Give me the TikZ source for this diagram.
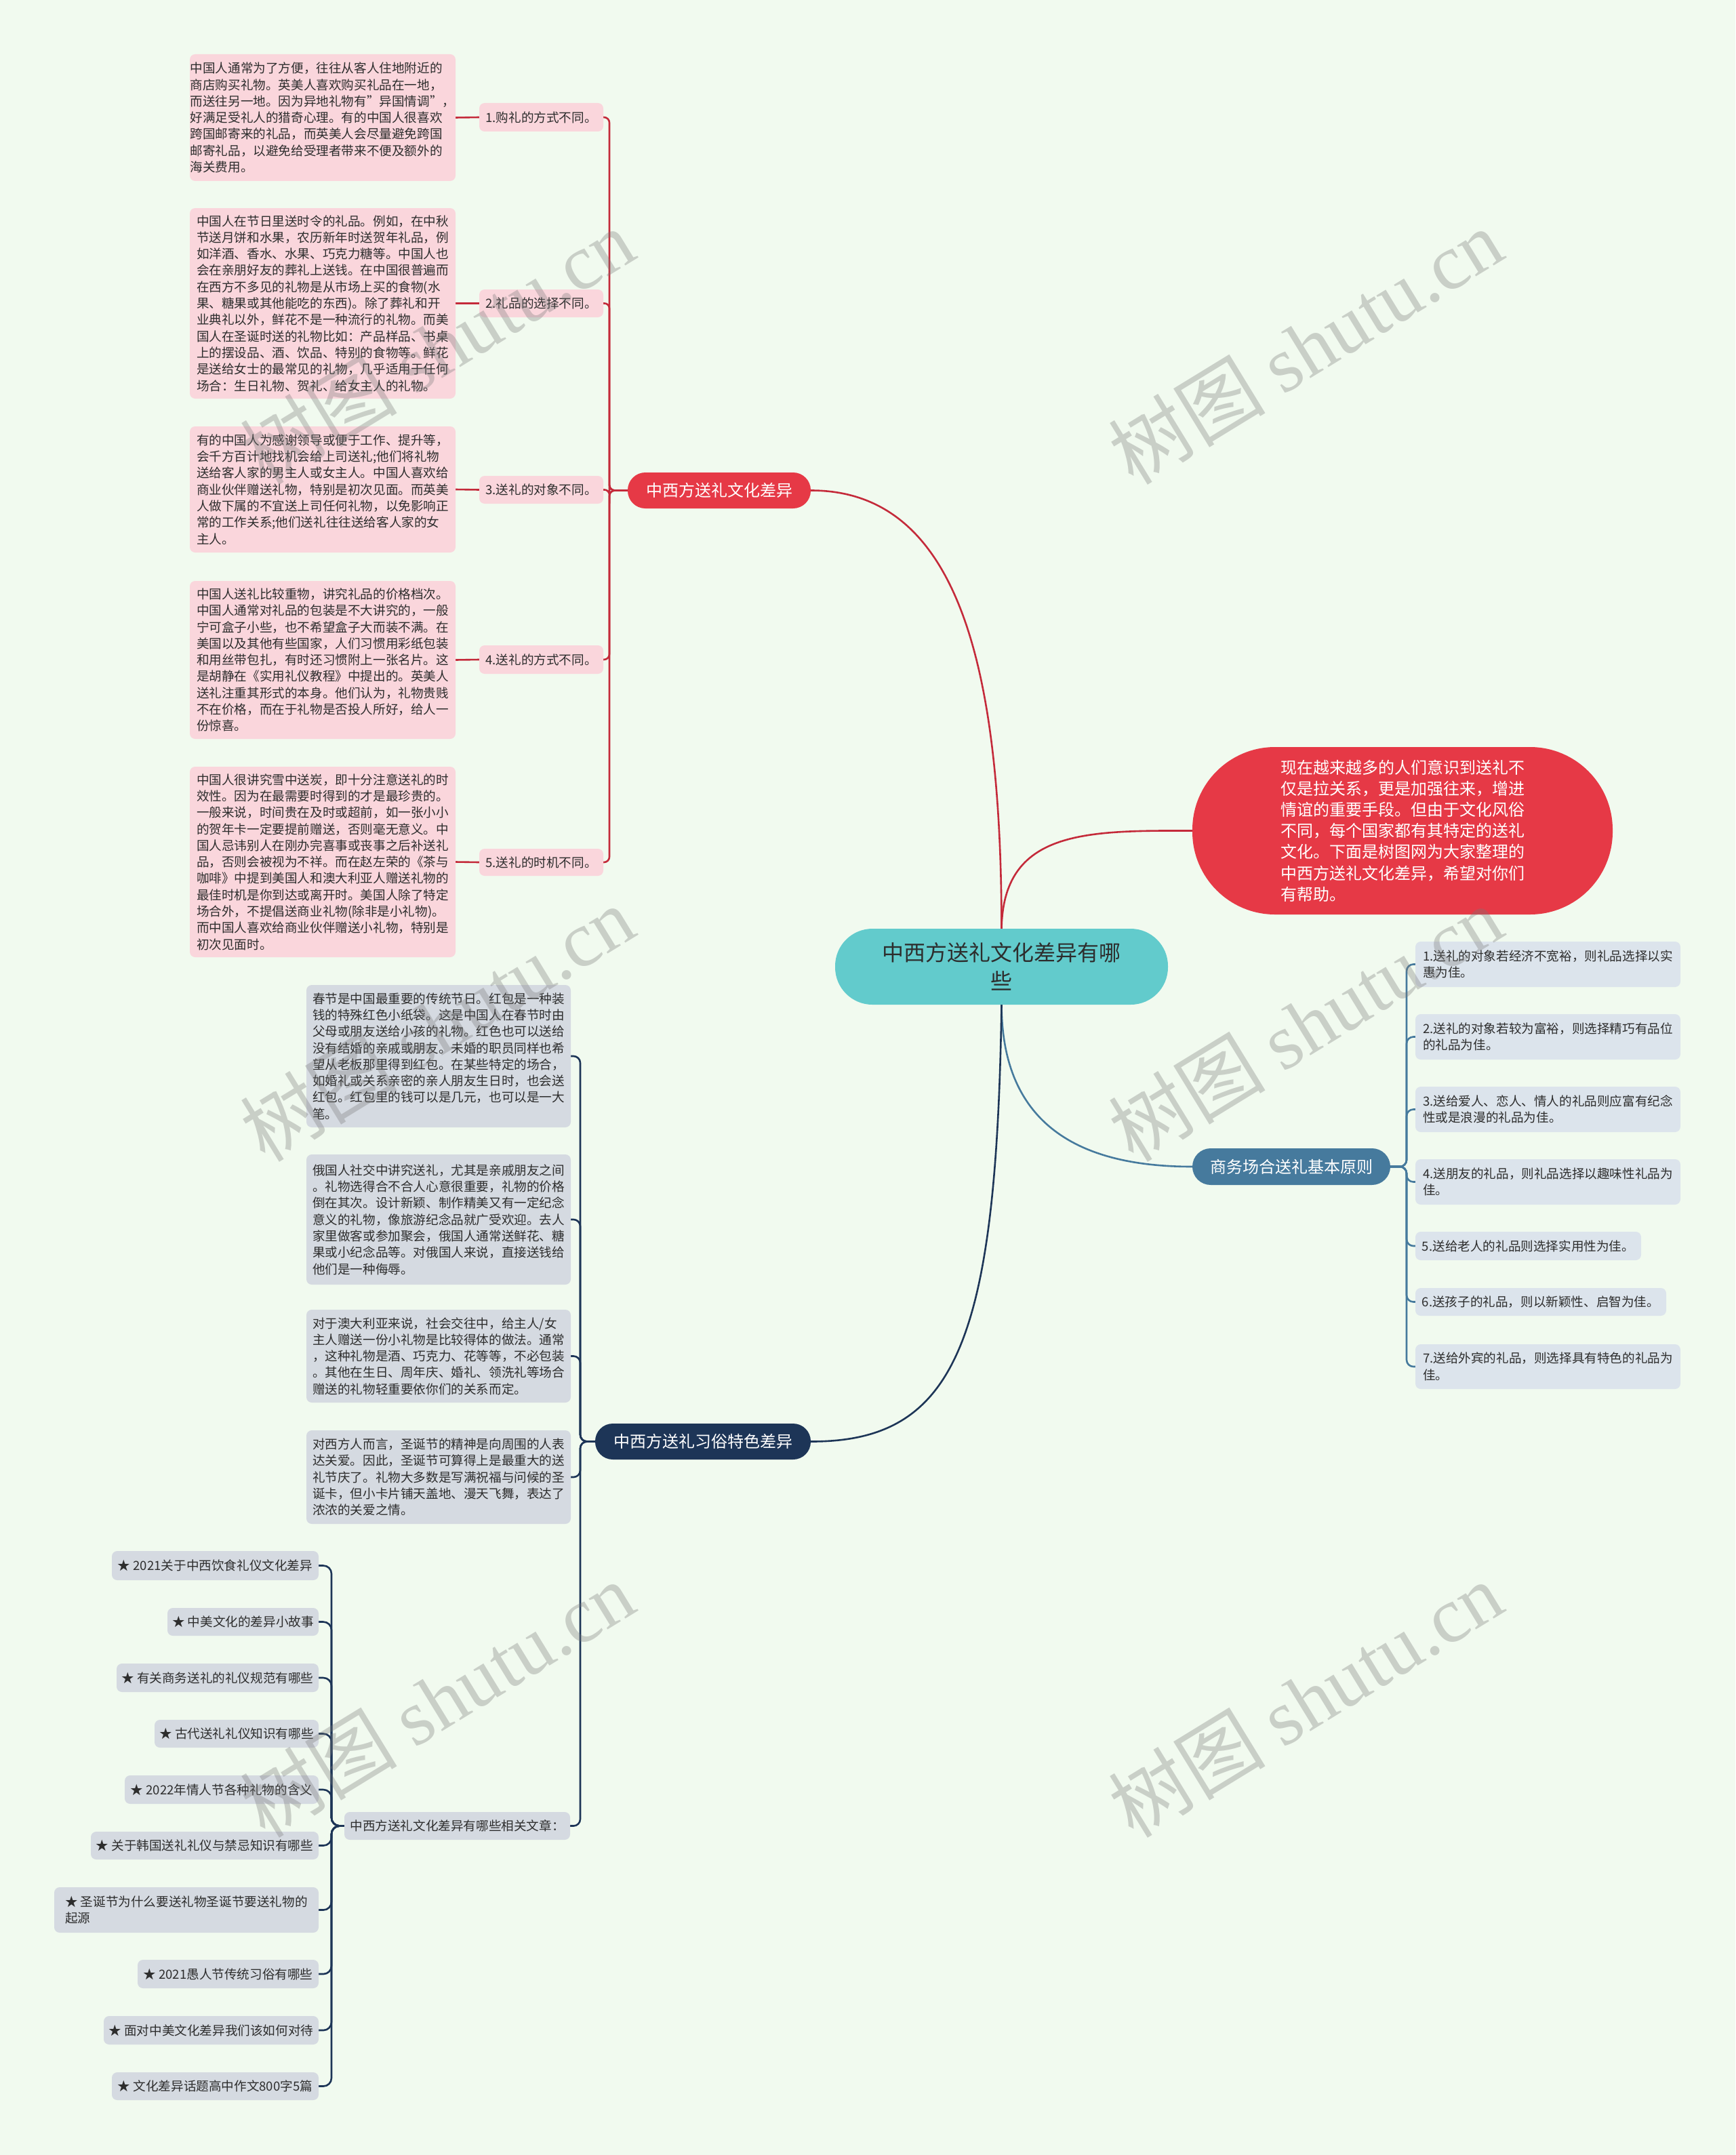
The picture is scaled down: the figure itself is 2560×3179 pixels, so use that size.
\documentclass[tikz,border=0pt]{standalone}
\usepackage{fontspec}
\setmainfont{Noto Sans CJK SC}
\newfontfamily\wmlat{Liberation Serif}
\pgfdeclarelayer{bgl}
\pgfsetlayers{bgl,main}
\definecolor{bgc}{RGB}{241,250,239}
\definecolor{redc}{RGB}{230,57,70}
\definecolor{redl}{RGB}{196,42,58}
\definecolor{pinkc}{RGB}{250,214,220}
\definecolor{tealc}{RGB}{98,203,204}
\definecolor{bluec}{RGB}{70,122,157}
\definecolor{navyc}{RGB}{29,53,87}
\definecolor{grayc}{RGB}{213,218,225}
\definecolor{bgrayc}{RGB}{220,228,236}
\definecolor{txtc}{RGB}{45,45,45}
\definecolor{wmc}{RGB}{120,120,120}
\newcommand\sfont{\fontsize{9.3}{12.15}\selectfont}
\newcommand\bfont{\fontsize{12}{15}\selectfont}
\newcommand\ifont{\fontsize{12}{15.6}\selectfont}
\newcommand\cfont{\fontsize{16}{21}\selectfont}
\newcommand\wfont{\fontsize{58}{60}\selectfont}
\newcommand\bx[7]{\node[#6, anchor=north west, minimum width={(#4-#2)*0.5pt}, minimum height={(#5-#3)*0.5pt}] (#1) at (#2,#3) {#7};}
\tikzset{
  box/.style={rounded corners=4pt, inner sep=0pt, outer sep=0pt, align=left, font=\sfont, text=txtc},
  pinkbox/.style={box, fill=pinkc},
  graybox/.style={box, fill=grayc},
  bluebox/.style={box, fill=bgrayc},
  redbranch/.style={rounded corners=13pt, inner sep=0pt, outer sep=0pt, fill=redc, text=white, font=\bfont},
  bluebranch/.style={rounded corners=13.5pt, inner sep=0pt, outer sep=0pt, fill=bluec, text=white, font=\bfont},
  navybranch/.style={rounded corners=13pt, inner sep=0pt, outer sep=0pt, fill=navyc, text=white, font=\bfont},
  infobox/.style={rounded corners=61pt, inner sep=0pt, outer sep=0pt, fill=redc, text=white, font=\ifont, align=left},
  centerbox/.style={rounded corners=27.5pt, inner sep=0pt, outer sep=0pt, fill=tealc, text=txtc, font=\cfont, align=center},
  redline/.style={draw=redl, line width=1.3pt},
  blueline/.style={draw=bluec, line width=1.3pt},
  navyline/.style={draw=navyc, line width=1.3pt},
  wm/.style={text=wmc, opacity=0.33, font=\wfont, inner sep=0pt}
}
\begin{document}
\begin{tikzpicture}[x=0.5pt,y=-0.5pt]
\useasboundingbox (0,0) rectangle (2560,3179);
\begin{pgfonlayer}{bgl}
\fill[bgc] (0,0) rectangle (2560,3179);
\end{pgfonlayer}

% central
\bx{c}{1232}{1370}{1723}{1482}{centerbox}{中西方送礼文化差异有哪\\些}

% red branch
\bx{b1}{926}{697}{1196}{750}{redbranch}{中西方送礼文化差异}
\bx{L1}{707}{152}{890}{194}{pinkbox}{1.购礼的方式不同。}
\bx{L2}{707}{427}{890}{468}{pinkbox}{2.礼品的选择不同。}
\bx{L3}{707}{702}{890}{743}{pinkbox}{3.送礼的对象不同。}
\bx{L4}{707}{952}{890}{994}{pinkbox}{4.送礼的方式不同。}
\bx{L5}{707}{1252}{890}{1292}{pinkbox}{5.送礼的时机不同。}

\bx{P1}{280}{80}{672}{267}{pinkbox}{中国人通常为了方便，往往从客人住地附近的\\商店购买礼物。英美人喜欢购买礼品在一地，\\而送往另一地。因为异地礼物有"异国情调"，\\好满足受礼人的猎奇心理。有的中国人很喜欢\\跨国邮寄来的礼品，而英美人会尽量避免跨国\\邮寄礼品，以避免给受理者带来不便及额外的\\海关费用。}
\bx{P2}{280}{307}{672}{588}{pinkbox}{中国人在节日里送时令的礼品。例如，在中秋\\节送月饼和水果，农历新年时送贺年礼品，例\\如洋酒、香水、水果、巧克力糖等。中国人也\\会在亲朋好友的葬礼上送钱。在中国很普遍而\\在西方不多见的礼物是从市场上买的食物(水\\果、糖果或其他能吃的东西)。除了葬礼和开\\业典礼以外，鲜花不是一种流行的礼物。而美\\国人在圣诞时送的礼物比如：产品样品、书桌\\上的摆设品、酒、饮品、特别的食物等。鲜花\\是送给女士的最常见的礼物，几乎适用于任何\\场合：生日礼物、贺礼、给女主人的礼物。}
\bx{P3}{280}{629}{672}{815}{pinkbox}{有的中国人为感谢领导或便于工作、提升等，\\会千方百计地找机会给上司送礼;他们将礼物\\送给客人家的男主人或女主人。中国人喜欢给\\商业伙伴赠送礼物，特别是初次见面。而英美\\人做下属的不宜送上司任何礼物，以免影响正\\常的工作关系;他们送礼往往送给客人家的女\\主人。}
\bx{P4}{280}{857}{672}{1090}{pinkbox}{中国人送礼比较重物，讲究礼品的价格档次。\\中国人通常对礼品的包装是不大讲究的，一般\\宁可盒子小些，也不希望盒子大而装不满。在\\美国以及其他有些国家，人们习惯用彩纸包装\\和用丝带包扎，有时还习惯附上一张名片。这\\是胡静在《实用礼仪教程》中提出的。英美人\\送礼注重其形式的本身。他们认为，礼物贵贱\\不在价格，而在于礼物是否投人所好，给人一\\份惊喜。}
\bx{P5}{280}{1131}{672}{1412}{pinkbox}{中国人很讲究雪中送炭，即十分注意送礼的时\\效性。因为在最需要时得到的才是最珍贵的。\\一般来说，时间贵在及时或超前，如一张小小\\的贺年卡一定要提前赠送，否则毫无意义。中\\国人忌讳别人在刚办完喜事或丧事之后补送礼\\品，否则会被视为不祥。而在赵左荣的《茶与\\咖啡》中提到美国人和澳大利亚人赠送礼物的\\最佳时机是你到达或离开时。美国人除了特定\\场合外，不提倡送商业礼物(除非是小礼物)。\\而中国人喜欢给商业伙伴赠送小礼物，特别是\\初次见面时。}

% info
\bx{info}{1759}{1102}{2379}{1349}{infobox}{现在越来越多的人们意识到送礼不\\仅是拉关系，更是加强往来，增进\\情谊的重要手段。但由于文化风俗\\不同，每个国家都有其特定的送礼\\文化。下面是树图网为大家整理的\\中西方送礼文化差异，希望对你们\\有帮助。}

% business branch
\bx{b2}{1759}{1694}{2051}{1748}{bluebranch}{商务场合送礼基本原则}
\bx{R1}{2088}{1389}{2479}{1456}{bluebox}{1.送礼的对象若经济不宽裕，则礼品选择以实\\惠为佳。}
\bx{R2}{2088}{1496}{2479}{1563}{bluebox}{2.送礼的对象若较为富裕，则选择精巧有品位\\的礼品为佳。}
\bx{R3}{2088}{1603}{2479}{1670}{bluebox}{3.送给爱人、恋人、情人的礼品则应富有纪念\\性或是浪漫的礼品为佳。}
\bx{R4}{2088}{1710}{2479}{1777}{bluebox}{4.送朋友的礼品，则礼品选择以趣味性礼品为\\佳。}
\bx{R5}{2088}{1817}{2421}{1859}{bluebox}{5.送给老人的礼品则选择实用性为佳。}
\bx{R6}{2088}{1900}{2458}{1941}{bluebox}{6.送孩子的礼品，则以新颖性、启智为佳。}
\bx{R7}{2088}{1983}{2479}{2049}{bluebox}{7.送给外宾的礼品，则选择具有特色的礼品为\\佳。}

% customs branch
\bx{b3}{878}{2100}{1196}{2153}{navybranch}{中西方送礼习俗特色差异}
\bx{C1}{452}{1453}{842}{1663}{graybox}{春节是中国最重要的传统节日。红包是一种装\\钱的特殊红色小纸袋。这是中国人在春节时由\\父母或朋友送给小孩的礼物。红色也可以送给\\没有结婚的亲戚或朋友。未婚的职员同样也希\\望从老板那里得到红包。在某些特定的场合，\\如婚礼或关系亲密的亲人朋友生日时，也会送\\红包。红包里的钱可以是几元，也可以是一大\\笔。}
\bx{C2}{452}{1703}{842}{1895}{graybox}{俄国人社交中讲究送礼，尤其是亲戚朋友之间\\。礼物选得合不合人心意很重要，礼物的价格\\倒在其次。设计新颖、制作精美又有一定纪念\\意义的礼物，像旅游纪念品就广受欢迎。去人\\家里做客或参加聚会，俄国人通常送鲜花、糖\\果或小纪念品等。对俄国人来说，直接送钱给\\他们是一种侮辱。}
\bx{C3}{452}{1932}{842}{2069}{graybox}{对于澳大利亚来说，社会交往中，给主人/女\\主人赠送一份小礼物是比较得体的做法。通常\\，这种礼物是酒、巧克力、花等等，不必包装\\。其他在生日、周年庆、婚礼、领洗礼等场合\\赠送的礼物轻重要依你们的关系而定。}
\bx{C4}{452}{2110}{842}{2248}{graybox}{对西方人而言，圣诞节的精神是向周围的人表\\达关爱。因此，圣诞节可算得上是最重大的送\\礼节庆了。礼物大多数是写满祝福与问候的圣\\诞卡，但小卡片铺天盖地、漫天飞舞，表达了\\浓浓的关爱之情。}
\bx{Lrel}{508}{2673}{841}{2714}{graybox}{中西方送礼文化差异有哪些相关文章：}

\bx{A1}{165}{2288}{470}{2331}{graybox}{★ 2021关于中西饮食礼仪文化差异}
\bx{A2}{247}{2372}{470}{2413}{graybox}{★ 中美文化的差异小故事}
\bx{A3}{172}{2454}{470}{2496}{graybox}{★ 有关商务送礼的礼仪规范有哪些}
\bx{A4}{228}{2537}{470}{2578}{graybox}{★ 古代送礼礼仪知识有哪些}
\bx{A5}{184}{2619}{470}{2661}{graybox}{★ 2022年情人节各种礼物的含义}
\bx{A6}{134}{2702}{470}{2743}{graybox}{★ 关于韩国送礼礼仪与禁忌知识有哪些}
\bx{A7}{80}{2784}{470}{2851}{graybox}{★ 圣诞节为什么要送礼物圣诞节要送礼物的\\起源}
\bx{A8}{203}{2891}{470}{2933}{graybox}{★ 2021愚人节传统习俗有哪些}
\bx{A9}{153}{2974}{470}{3016}{graybox}{★ 面对中美文化差异我们该如何对待}
\bx{A10}{165}{3057}{470}{3098}{graybox}{★ 文化差异话题高中作文800字5篇}

% connectors
\begin{pgfonlayer}{bgl}
\draw[redline] (c.north) .. controls (1477,1000) and (1420,723) .. (b1.east);
\draw[redline] (c.north) .. controls (1480,1225) and (1600,1225) .. (info.west);
\draw[blueline] (c.south) .. controls (1478,1650) and (1580,1721) .. (b2.west);
\draw[navyline] (c.south) .. controls (1470,1980) and (1410,2127) .. (b3.east);

\foreach \n/\y in {L1/173,L2/447,L3/722,L4/973,L5/1272}
  \draw[redline, rounded corners=4pt] (b1.west) -| (899,\y) -- (\n.east);
\foreach \n/\m in {L1/P1,L2/P2,L3/P3,L4/P4,L5/P5}
  \draw[redline] (\n.west) -- (\m.east);

\foreach \n/\y in {R1/1422.5,R2/1529.5,R3/1636.5,R4/1743.5,R5/1838,R6/1920.5,R7/2016}
  \draw[blueline, rounded corners=5pt] (b2.east) -| (2075,\y) -- (\n.east -| 2088,\y);

\foreach \n/\y in {C1/1558,C2/1799,C3/2000.5,C4/2179,Lrel/2693.5}
  \draw[navyline, rounded corners=5pt] (b3.west) -| (856,\y) -- (\n.east);

\foreach \n/\y in {A1/2309.5,A2/2392.5,A3/2475,A4/2557.5,A5/2640,A6/2722.5,A7/2817.5,A8/2912,A9/2995,A10/3077.5}
  \draw[navyline, rounded corners=6pt] (Lrel.west) -| (489,\y) -- (\n.east);
\end{pgfonlayer}

% watermarks
\foreach \i/\x/\y in {1/645/511,2/1926/511,3/645/1510,4/1926/1510,5/645/2507,6/1926/2507}
  \node[wm, rotate=31.5] (wm\i) at (\x,\y) {树图 {\wmlat shutu.cn}};
\end{tikzpicture}
\end{document}
